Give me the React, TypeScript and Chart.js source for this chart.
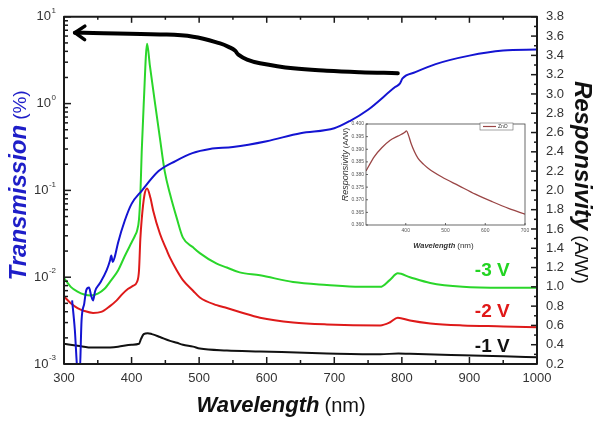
import React, { useEffect, useRef } from 'react';
import { Chart, registerables } from 'chart.js';

Chart.register(...registerables);

const FONT = '"Liberation Sans", Arial, Helvetica, sans-serif';

// ---------- Main chart data ----------
// Transmission (%) of the filter, left log axis
const transWl = [312, 316, 320, 323, 326, 330, 333, 337, 340, 343, 346, 353, 363, 368, 370, 372, 375, 380, 390, 400, 415, 440, 465, 490, 516, 550, 600, 650, 700, 723, 750, 790, 797, 801, 820, 850, 900, 950, 1000];
const transVal = [0.0054, 0.0025, 0.0008, 0.0007, 0.0032, 0.005, 0.0071, 0.0076, 0.0062, 0.0054, 0.0069, 0.0085, 0.012, 0.0155, 0.0178, 0.015, 0.017, 0.025, 0.045, 0.07, 0.099, 0.167, 0.218, 0.269, 0.30, 0.316, 0.369, 0.456, 0.52, 0.63, 0.85, 1.55, 1.7, 1.95, 2.3, 2.85, 3.57, 4.08, 4.19];

// Responsivity (A/W) at -3 V
const v3Wl = [300, 310, 320, 330, 340, 350, 360, 370, 380, 390, 400, 405, 408, 411, 413, 415, 418, 423, 427, 435, 442, 449, 457, 467, 476, 491, 501, 526, 541, 560, 590, 639, 689, 738, 768, 782, 794, 812, 842, 890, 950, 1000];
const v3R = [1.09, 1.0, 0.95, 0.92, 0.91, 0.93, 0.98, 1.07, 1.17, 1.32, 1.46, 1.53, 1.58, 1.7, 1.95, 2.4, 2.9, 3.52, 3.3, 2.89, 2.54, 2.2, 1.96, 1.71, 1.51, 1.41, 1.35, 1.24, 1.2, 1.15, 1.12, 1.05, 1.02, 1.0, 1.0, 1.07, 1.14, 1.1, 1.04, 1.0, 0.99, 0.99];

// Responsivity (A/W) at -2 V
const v2Wl = [300, 310, 320, 330, 343, 355, 368, 378, 387, 395, 402, 408, 411, 413, 415, 419, 423, 428, 432, 442, 452, 457, 467, 476, 491, 501, 526, 541, 560, 590, 639, 689, 768, 782, 794, 812, 842, 890, 950, 1000];
const v2R = [0.90, 0.83, 0.78, 0.75, 0.73, 0.74, 0.80, 0.86, 0.93, 0.98, 1.01, 1.05, 1.17, 1.5, 1.7, 1.95, 2.02, 1.92, 1.79, 1.55, 1.38, 1.3, 1.17, 1.07, 0.96, 0.89, 0.81, 0.78, 0.74, 0.68, 0.63, 0.61, 0.60, 0.63, 0.68, 0.65, 0.62, 0.60, 0.59, 0.58];

// Responsivity (A/W) at -1 V
const v1Wl = [300, 320, 343, 360, 380, 400, 411, 414, 418, 424, 430, 442, 457, 467, 476, 491, 501, 541, 590, 689, 768, 795, 812, 890, 950, 1000];
const v1R = [0.41, 0.39, 0.37, 0.37, 0.38, 0.40, 0.41, 0.46, 0.51, 0.52, 0.51, 0.48, 0.44, 0.42, 0.40, 0.38, 0.36, 0.34, 0.33, 0.31, 0.30, 0.31, 0.305, 0.29, 0.28, 0.27];

// Annotation arrow (follows transmission axis)
const arrowWl = [316, 343, 442, 491, 531, 546, 553, 558, 571, 590, 639, 689, 738, 794];
const arrowT = [6.56, 6.5, 6.27, 5.9, 4.94, 4.41, 4.08, 3.67, 3.21, 2.92, 2.55, 2.39, 2.30, 2.24];

// Tick values / labels
const wlTicks = [300, 400, 500, 600, 700, 800, 900, 1000];
const decadeTicks = [0.001, 0.01, 0.1, 1, 10];
const decadeExp = ['-3', '-2', '-1', '0', '1'];
const respTicks = [0.2, 0.4, 0.6, 0.8, 1.0, 1.2, 1.4, 1.6, 1.8, 2.0, 2.2, 2.4, 2.6, 2.8, 3.0, 3.2, 3.4, 3.6, 3.8];
const voltLabels = ['-3 V', '-2 V', '-1 V'];
const voltColors = ['#22d422', '#e01818', '#111111'];

// ---------- Inset data (ZnO) ----------
const insetWl = [300, 321, 341, 360, 380, 397, 402, 407, 413, 422, 431, 445, 457, 491, 533, 575, 618, 660, 700];
const insetR = [0.3814, 0.3871, 0.3908, 0.3935, 0.3952, 0.3966, 0.3973, 0.3955, 0.3925, 0.3890, 0.3864, 0.3840, 0.3824, 0.3790, 0.3756, 0.3722, 0.3692, 0.3665, 0.3643];
const insetWlTicks = [400, 500, 600, 700];
const insetRTicks = [0.36, 0.365, 0.37, 0.375, 0.38, 0.385, 0.39, 0.395, 0.40];
const insetLegend = 'ZnO';

const pts = (xs: number[], ys: number[]) => xs.map((x, i) => ({ x, y: ys[i] }));

const seg = (ctx: CanvasRenderingContext2D, x1: number, y1: number, x2: number, y2: number) => {
  ctx.beginPath();
  ctx.moveTo(x1, y1);
  ctx.lineTo(x2, y2);
  ctx.stroke();
};

// draws two-part text (styled) centered at 0 along current x axis
const twoPart = (ctx: CanvasRenderingContext2D, f1: string, t1: string, f2: string, t2: string, gap: number, baseY: number) => {
  ctx.font = f1;
  const w1 = ctx.measureText(t1).width;
  ctx.font = f2;
  const w2 = ctx.measureText(t2).width;
  const start = -(w1 + gap + w2) / 2;
  ctx.textAlign = 'left';
  ctx.textBaseline = 'alphabetic';
  ctx.font = f1;
  ctx.fillText(t1, start, baseY);
  ctx.font = f2;
  ctx.fillText(t2, start + w1 + gap, baseY);
};

const mainDeco = {
  id: 'mainDeco',
  afterDatasetsDraw(chart: any) {
    const { ctx, chartArea: a, scales } = chart;
    const sx = scales.x, sl = scales.yL, sr = scales.yR;
    ctx.save();
    // arrow head
    const am = chart.getDatasetMeta(0);
    if (am && am.data.length > 1) {
      const p0 = am.data[0], p1 = am.data[1];
      const ang = Math.atan2(p1.y - p0.y, p1.x - p0.x);
      const L = 12, spread = 0.6;
      ctx.strokeStyle = '#000';
      ctx.lineWidth = 3.5;
      ctx.lineCap = 'round';
      ctx.lineJoin = 'round';
      ctx.beginPath();
      ctx.moveTo(p0.x + L * Math.cos(ang - spread), p0.y + L * Math.sin(ang - spread));
      ctx.lineTo(p0.x, p0.y);
      ctx.lineTo(p0.x + L * Math.cos(ang + spread), p0.y + L * Math.sin(ang + spread));
      ctx.stroke();
    }
    // frame
    ctx.lineCap = 'butt';
    ctx.strokeStyle = '#1a1a1a';
    ctx.lineWidth = 2;
    ctx.strokeRect(a.left, a.top, a.right - a.left, a.bottom - a.top);
    ctx.lineWidth = 1.5;
    // x ticks (bottom + top)
    for (let i = 0; i < wlTicks.length; i++) {
      const px = sx.getPixelForValue(wlTicks[i]);
      seg(ctx, px, a.bottom, px, a.bottom - 7);
      seg(ctx, px, a.top, px, a.top + 6);
      if (i < wlTicks.length - 1) {
        const pm = sx.getPixelForValue((wlTicks[i] + wlTicks[i + 1]) / 2);
        seg(ctx, pm, a.bottom, pm, a.bottom - 4);
        seg(ctx, pm, a.top, pm, a.top + 3);
      }
    }
    // left log ticks
    for (let i = 0; i < decadeTicks.length; i++) {
      const d = decadeTicks[i];
      const py = sl.getPixelForValue(d);
      seg(ctx, a.left, py, a.left + 7, py);
      if (i < decadeTicks.length - 1) {
        for (let m = 2; m <= 9; m++) {
          const pm = sl.getPixelForValue(d * m);
          seg(ctx, a.left, pm, a.left + 4, pm);
        }
      }
    }
    // right ticks
    for (let i = 0; i < respTicks.length; i++) {
      const py = sr.getPixelForValue(respTicks[i]);
      seg(ctx, a.right, py, a.right - 6, py);
      if (i < respTicks.length - 1) {
        const pm = sr.getPixelForValue((respTicks[i] + respTicks[i + 1]) / 2);
        seg(ctx, a.right, pm, a.right - 3, pm);
      }
    }
    ctx.restore();
  },
  afterDraw(chart: any) {
    const { ctx, chartArea: a, scales } = chart;
    const sx = scales.x, sl = scales.yL, sr = scales.yR;
    ctx.save();
    // left decade labels with superscripts
    ctx.fillStyle = '#333';
    for (let i = 0; i < decadeTicks.length; i++) {
      const py = sl.getPixelForValue(decadeTicks[i]);
      const right = 56;
      ctx.font = `8px ${FONT}`;
      const sw = ctx.measureText(decadeExp[i]).width;
      ctx.textAlign = 'left';
      ctx.textBaseline = 'middle';
      ctx.fillText(decadeExp[i], right - sw, py - 6);
      ctx.font = `13px ${FONT}`;
      ctx.textAlign = 'right';
      ctx.fillText('10', right - sw - 0.5, py);
    }
    // voltage labels
    const vy = [1.17, 0.74, 0.375];
    ctx.font = `bold 19px ${FONT}`;
    ctx.textAlign = 'left';
    ctx.textBaseline = 'middle';
    for (let i = 0; i < voltLabels.length; i++) {
      ctx.fillStyle = voltColors[i];
      ctx.fillText(voltLabels[i], sx.getPixelForValue(908), sr.getPixelForValue(vy[i]));
    }
    // left title
    ctx.save();
    ctx.fillStyle = '#1e1ec8';
    ctx.translate(18, (a.top + a.bottom) / 2 - 5);
    ctx.rotate(-Math.PI / 2);
    twoPart(ctx, `italic bold 24px ${FONT}`, 'Transmission', `19px ${FONT}`, '(%)', 5, 8);
    ctx.restore();
    // right title
    ctx.save();
    ctx.fillStyle = '#111';
    ctx.translate(583, (a.top + a.bottom) / 2 - 8);
    ctx.rotate(Math.PI / 2);
    twoPart(ctx, `italic bold 24px ${FONT}`, 'Responsivity', `19px ${FONT}`, '(A/W)', 5, 8);
    ctx.restore();
    // bottom title
    ctx.save();
    ctx.fillStyle = '#111';
    ctx.translate(281, 412);
    twoPart(ctx, `italic bold 22px ${FONT}`, 'Wavelength', `20px ${FONT}`, '(nm)', 5, 0);
    ctx.restore();
    ctx.restore();
  },
};

const insetDeco = {
  id: 'insetDeco',
  afterDatasetsDraw(chart: any) {
    const { ctx, chartArea: a, scales } = chart;
    const sx = scales.x, sy = scales.y;
    ctx.save();
    ctx.strokeStyle = '#444';
    ctx.lineWidth = 0.8;
    ctx.strokeRect(a.left, a.top, a.right - a.left, a.bottom - a.top);
    for (const v of insetWlTicks) {
      const px = sx.getPixelForValue(v);
      seg(ctx, px, a.bottom, px, a.bottom - 2);
    }
    for (const v of insetRTicks) {
      const py = sy.getPixelForValue(v);
      seg(ctx, a.left, py, a.left + 2, py);
    }
    // legend
    const lx = a.right - 45, ly = a.top - 1;
    ctx.fillStyle = '#fff';
    ctx.fillRect(lx, ly, 33, 7);
    ctx.strokeStyle = '#666';
    ctx.lineWidth = 0.6;
    ctx.strokeRect(lx, ly, 33, 7);
    ctx.strokeStyle = '#9a4545';
    ctx.lineWidth = 1.2;
    seg(ctx, lx + 3, ly + 3.5, lx + 16, ly + 3.5);
    ctx.fillStyle = '#333';
    ctx.font = `5px ${FONT}`;
    ctx.textAlign = 'left';
    ctx.textBaseline = 'middle';
    ctx.fillText(insetLegend, lx + 18, ly + 3.7);
    // y title
    ctx.save();
    ctx.fillStyle = '#333';
    ctx.translate(15, (a.top + a.bottom) / 2 - 10);
    ctx.rotate(-Math.PI / 2);
    twoPart(ctx, `italic 9px ${FONT}`, 'Responsivity', `8px ${FONT}`, '(A/W)', 2, 3);
    ctx.restore();
    // x title
    ctx.save();
    ctx.fillStyle = '#333';
    ctx.translate((a.left + a.right) / 2 - 2, a.bottom + 23);
    twoPart(ctx, `italic bold 7.5px ${FONT}`, 'Wavelength', `8px ${FONT}`, '(nm)', 2, 0);
    ctx.restore();
    ctx.restore();
  },
};

export default function App() {
  const mainRef = useRef<HTMLCanvasElement>(null);
  const insetRef = useRef<HTMLCanvasElement>(null);

  useEffect(() => {
    const tickFont = { family: FONT, size: 13 };
    const smooth = { cubicInterpolationMode: 'monotone' as const, pointRadius: 0, borderWidth: 2 };
    const main = new Chart(mainRef.current as HTMLCanvasElement, {
      type: 'line',
      data: {
        datasets: [
          { label: 'arrow', data: pts(arrowWl, arrowT), yAxisID: 'yL', borderColor: '#000', borderWidth: 4, pointRadius: 0, tension: 0.4, borderCapStyle: 'round', clip: false } as any,
          { label: 'Transmission', data: pts(transWl, transVal), yAxisID: 'yL', borderColor: '#1414d2', ...smooth },
          { label: '-3 V', data: pts(v3Wl, v3R), yAxisID: 'yR', borderColor: '#2ad62a', ...smooth },
          { label: '-2 V', data: pts(v2Wl, v2R), yAxisID: 'yR', borderColor: '#de1a1a', ...smooth },
          { label: '-1 V', data: pts(v1Wl, v1R), yAxisID: 'yR', borderColor: '#111', ...smooth },
        ],
      },
      options: {
        responsive: false,
        animation: false,
        layout: { padding: { top: 15, left: 0, right: 0, bottom: 0 } },
        plugins: { legend: { display: false }, tooltip: { enabled: false } },
        scales: {
          x: {
            type: 'linear', min: 300, max: 1000,
            afterBuildTicks: (s: any) => { s.ticks = wlTicks.map((v) => ({ value: v })); },
            ticks: { font: tickFont, color: '#333', padding: 7, autoSkip: false, maxRotation: 0, callback: (v: any) => String(v) },
            grid: { display: false, drawTicks: false },
            border: { display: false },
            afterFit: (s: any) => { s.height = 60; },
          },
          yL: {
            type: 'logarithmic', position: 'left', min: 0.001, max: 10,
            ticks: { display: false },
            grid: { display: false, drawTicks: false },
            border: { display: false },
            afterFit: (s: any) => { s.width = 64; },
          },
          yR: {
            type: 'linear', position: 'right', min: 0.2, max: 3.8,
            afterBuildTicks: (s: any) => { s.ticks = respTicks.map((v) => ({ value: v })); },
            ticks: { font: tickFont, color: '#333', padding: 9, autoSkip: false, callback: (v: any) => Number(v).toFixed(1) },
            grid: { display: false, drawTicks: false },
            border: { display: false },
            afterFit: (s: any) => { s.width = 63; },
          },
        },
      } as any,
      plugins: [mainDeco],
    });

    const inset = new Chart(insetRef.current as HTMLCanvasElement, {
      type: 'line',
      data: {
        datasets: [
          { label: insetLegend, data: pts(insetWl, insetR), borderColor: '#9a4545', borderWidth: 1.3, pointRadius: 0, cubicInterpolationMode: 'monotone' },
        ],
      },
      options: {
        responsive: false,
        animation: false,
        layout: { padding: { top: 14, right: 15, left: 0, bottom: 0 } },
        plugins: { legend: { display: false }, tooltip: { enabled: false } },
        scales: {
          x: {
            type: 'linear', min: 300, max: 700,
            afterBuildTicks: (s: any) => { s.ticks = insetWlTicks.map((v) => ({ value: v })); },
            ticks: { font: { family: FONT, size: 5 }, color: '#555', padding: 3, autoSkip: false, maxRotation: 0, callback: (v: any) => String(v) },
            grid: { display: false, drawTicks: false },
            border: { display: false },
            afterFit: (s: any) => { s.height = 30; },
          },
          y: {
            type: 'linear', min: 0.36, max: 0.4,
            afterBuildTicks: (s: any) => { s.ticks = insetRTicks.map((v) => ({ value: v })); },
            ticks: { font: { family: FONT, size: 5 }, color: '#555', padding: 2, autoSkip: false, callback: (v: any) => Number(v).toFixed(3) },
            grid: { display: false, drawTicks: false },
            border: { display: false },
            afterFit: (s: any) => { s.width = 36; },
          },
        },
      } as any,
      plugins: [insetDeco],
    });

    return () => {
      main.destroy();
      inset.destroy();
    };
  }, []);

  return (
    <div style={{ position: 'absolute', left: 0, top: 0, width: 600, height: 424, background: '#fff' }}>
      <canvas ref={mainRef} width={600} height={424} style={{ position: 'absolute', left: 0, top: 0 }} />
      <canvas ref={insetRef} width={210} height={145} style={{ position: 'absolute', left: 330, top: 110 }} />
    </div>
  );
}
